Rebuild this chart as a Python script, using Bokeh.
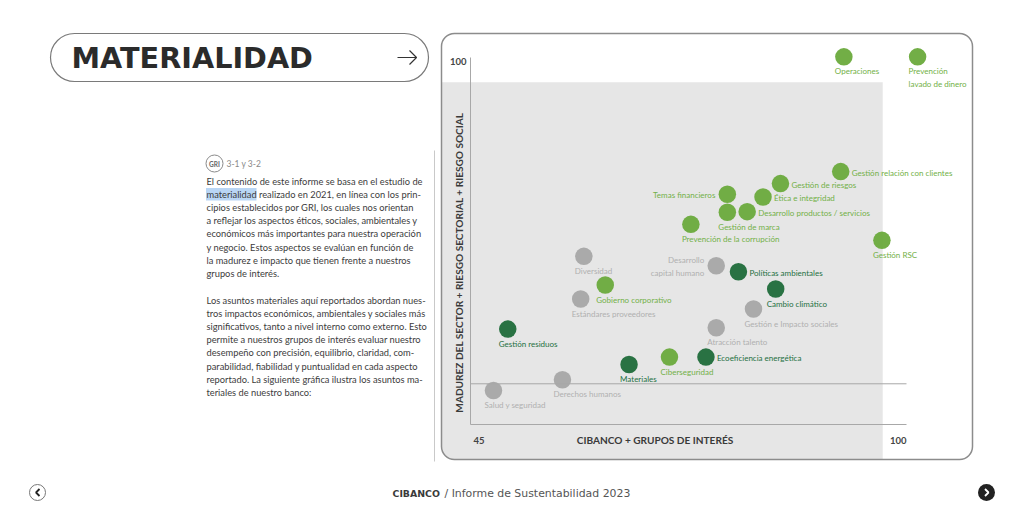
from bokeh.plotting import figure
from bokeh.models import ColumnDataSource, Range1d
from bokeh.core.properties import value
from bokeh.embed import file_html
from bokeh.resources import INLINE
import math

# ---------------- data ----------------
topics = [
    "Operaciones", "Prevención\nlavado de dinero", "Gestión relación con clientes",
    "Gestión de riesgos", "Ética e integridad", "Temas financieros", "Gestión de marca",
    "Desarrollo productos / servicios", "Prevención de la corrupción", "Gestión RSC",
    "Diversidad", "Desarrollo\ncapital humano", "Políticas ambientales",
    "Gobierno corporativo", "Cambio climático", "Estándares proveedores",
    "Gestión e Impacto sociales", "Gestión residuos", "Atracción talento",
    "Ciberseguridad", "Ecoeficiencia energética", "Materiales",
    "Derechos humanos", "Salud y seguridad",
]
x_score = [92.1, 101.4, 91.7, 84.1, 81.9, 77.4, 77.4, 79.9, 72.8, 96.9,
           59.3, 76.0, 78.8, 62.0, 83.5, 58.9, 80.7, 49.7, 76.0,
           70.1, 74.7, 65.0, 56.6, 47.9]
y_score = [100.1, 100.1, 82.9, 81.1, 79.1, 79.5, 76.8, 76.9, 75.0, 72.6,
           70.2, 68.8, 67.9, 65.9, 65.3, 63.8, 62.3, 59.3, 59.5,
           55.1, 55.1, 54.0, 51.7, 50.1]
group = ["light", "light", "light", "light", "light", "light", "light",
         "light", "light", "light", "gray", "gray", "dark", "light", "dark",
         "gray", "gray", "dark", "gray", "light", "dark", "dark", "gray", "gray"]

x_min, x_max = 45, 100
y_min, y_max = 45, 100
x_tick_values = [45, 100]
x_tick_labels = ["45", "100"]
y_tick_values = [100]
y_tick_labels = ["100"]
threshold_y = 51.1
focus_x_max = 97.0
focus_y_max = 96.3
x_axis_title = "CIBANCO + GRUPOS DE INTERÉS"
y_axis_title = "MADUREZ DEL SECTOR + RIESGO SECTORIAL + RIESGO SOCIAL"

page_title = "MATERIALIDAD"
gri_badge = "GRI"
gri_refs = "3-1 y 3-2"
paragraph_1 = [
    "El contenido de este informe se basa en el estudio de",
    "materialidad realizado en 2021, en línea con los prin-",
    "cipios establecidos por GRI, los cuales nos orientan",
    "a reflejar los aspectos éticos, sociales, ambientales y",
    "económicos más importantes para nuestra operación",
    "y negocio. Estos aspectos se evalúan en función de",
    "la madurez e impacto que tienen frente a nuestros",
    "grupos de interés.",
]
paragraph_2 = [
    "Los asuntos materiales aquí reportados abordan nues-",
    "tros impactos económicos, ambientales y sociales más",
    "significativos, tanto a nivel interno como externo. Esto",
    "permite a nuestros grupos de interés evaluar nuestro",
    "desempeño con precisión, equilibrio, claridad, com-",
    "parabilidad, fiabilidad y puntualidad en cada aspecto",
    "reportado. La siguiente gráfica ilustra los asuntos ma-",
    "teriales de nuestro banco:",
]
footer_brand = "CIBANCO"
footer_rest = "/ Informe de Sustentabilidad 2023"

# ---------------- styles ----------------
DOT = {"light": "#6aaa3c", "dark": "#1f6b3a", "gray": "#a6a6a6"}
TXT = {"light": "#72b046", "dark": "#24703f", "gray": "#b0b0b0"}
label_side = {
    "Gestión relación con clientes": "right", "Gestión de riesgos": "right",
    "Ética e integridad": "right", "Desarrollo productos / servicios": "right",
    "Políticas ambientales": "right", "Ecoeficiencia energética": "right",
    "Temas financieros": "left", "Desarrollo\ncapital humano": "left",
}

W, H = 1008, 505
# page-pixel anchors of the chart axes
AX_L, AX_R = 470, 906
AX_T, AX_B = 57, 424
XPP = (x_max - x_min) / (AX_R - AX_L)
YPP = (y_max - y_min) / (AX_B - AX_T)


def dx(px):
    return x_min + (px - AX_L) * XPP


def dy(py):
    return y_max - (py - AX_T) * YPP


p = figure(width=W, height=H, output_backend="svg", toolbar_location=None,
           x_range=Range1d(dx(0), dx(W)), y_range=Range1d(dy(H), dy(0)),
           x_axis_location=None, y_axis_location=None, min_border=0,
           outline_line_color=None, background_fill_color="white",
           border_fill_color="white")
p.xgrid.visible = False
p.ygrid.visible = False

# ---------- title pill ----------
p.quad(left=dx(50), right=dx(428), top=dy(33), bottom=dy(81), fill_color="white",
       line_color="#7a7a7a", line_width=1.2, border_radius=24)
p.text(x=[dx(71)], y=[dy(57.5)], text=[page_title], text_font=value("DejaVu Sans"),
       text_font_style="bold", text_font_size="28.7px", text_color="#2b2b2b",
       text_baseline="middle", text_align="left")
p.line(x=[dx(397), dx(416)], y=[dy(57), dy(57)], line_color="#333333", line_width=1.2)
p.line(x=[dx(409), dx(416), dx(409)], y=[dy(50), dy(57), dy(64)],
       line_color="#333333", line_width=1.2)

# ---------- left text ----------
p.segment(x0=[dx(434)], y0=[dy(150)], x1=[dx(434)], y1=[dy(461)],
          line_color="#c9c9c9", line_width=1)
p.scatter(x=[dx(214)], y=[dy(163)], size=17, marker="circle", fill_color="white",
          line_color="#8a8a8a", line_width=1)
p.text(x=[dx(214)], y=[dy(163.5)], text=[gri_badge], text_font=value("Lato"),
       text_font_style="bold", text_font_size="6.5px", text_color="#666666",
       text_align="center", text_baseline="middle")
p.text(x=[dx(226)], y=[dy(163.5)], text=[gri_refs], text_font=value("Lato"),
       text_font_size="8.5px", text_color="#8a8a8a", text_align="left",
       text_baseline="middle")
LINE_H = 13.1
p.quad(left=dx(205.5), right=dx(256), top=dy(181 + LINE_H - 6.5),
       bottom=dy(181 + LINE_H + 6), fill_color="#b9d6f5", line_color=None)
para_x = [dx(206)] * (len(paragraph_1) + len(paragraph_2))
para_y = [dy(181 + LINE_H * i) for i in range(len(paragraph_1))] + \
         [dy(300 + LINE_H * i) for i in range(len(paragraph_2))]
p.text(x=para_x, y=para_y, text=paragraph_1 + paragraph_2, text_font=value("Lato"),
       text_font_size="9.3px", text_color="#3c3c3c", text_align="left",
       text_baseline="middle")

# ---------- chart panel ----------
BOX_L, BOX_R, BOX_T, BOX_B = 441, 972, 33, 459
p.quad(left=dx(BOX_L), right=dx(BOX_R), top=dy(BOX_T), bottom=dy(BOX_B),
       fill_color="white", line_color=None, border_radius=13)
p.quad(left=dx(BOX_L), right=focus_x_max, top=focus_y_max, bottom=dy(BOX_B),
       fill_color="#e6e6e6", line_color=None, border_radius=(0, 0, 0, 13))
p.quad(left=dx(BOX_L), right=dx(BOX_R), top=dy(BOX_T), bottom=dy(BOX_B),
       fill_color=None, line_color="#8c8c8c", line_width=1.5, border_radius=13)

p.segment(x0=[x_min, x_min, x_min], y0=[y_min, y_min, threshold_y],
          x1=[x_min, x_max, x_max], y1=[y_max, y_min, threshold_y],
          line_color="#a8a8a8", line_width=1)

tick_font = dict(text_font=value("Lato"), text_font_style="bold",
                 text_font_size="9.5px", text_color="#444444", text_baseline="middle")
p.text(x=[x_min] * len(y_tick_values), y=y_tick_values, text=y_tick_labels,
       text_align="right", x_offset=-4, y_offset=4, **tick_font)
p.text(x=x_tick_values[:1], y=[y_min], text=x_tick_labels[:1], text_align="left",
       x_offset=3, y_offset=15.5, **tick_font)
p.text(x=x_tick_values[1:], y=[y_min], text=x_tick_labels[1:], text_align="right",
       x_offset=0, y_offset=15.5, **tick_font)

title_font = dict(text_font=value("Lato"), text_font_style="bold",
                  text_font_size="10.1px", text_color="#3a3a3a",
                  text_align="center", text_baseline="middle")
p.text(x=[dx(654.5)], y=[y_min], y_offset=15.5, text=[x_axis_title], **title_font)
p.text(x=[dx(458)], y=[dy(262)], text=[y_axis_title], angle=math.pi / 2, **title_font)

# ---------- points ----------
src = ColumnDataSource(dict(x=x_score, y=y_score, name=topics,
                            color=[DOT[g] for g in group]))
p.scatter("x", "y", source=src, size=17.5, marker="circle", fill_color="color",
          line_color=None, fill_alpha=0.95)

sides = {"below": dict(text_align="left", text_baseline="top", x_offset=-9, y_offset=9.5),
         "right": dict(text_align="left", text_baseline="middle", x_offset=11, y_offset=1),
         "left": dict(text_align="right", text_baseline="middle", x_offset=-12, y_offset=1)}
for side, opts in sides.items():
    idx = [i for i, t in enumerate(topics) if label_side.get(t, "below") == side]
    s = ColumnDataSource(dict(x=[x_score[i] for i in idx], y=[y_score[i] for i in idx],
                              text=[topics[i] for i in idx],
                              color=[TXT[group[i]] for i in idx]))
    p.text("x", "y", text="text", source=s, text_color="color",
           text_font=value("Lato"), text_font_size="8px", text_line_height=1.25,
           **opts)

# ---------- footer ----------
p.text(x=[dx(392)], y=[dy(493)], text=[footer_brand], text_font=value("DejaVu Sans"),
       text_font_style="bold", text_font_size="9.4px", text_color="#3a3a3a",
       text_align="left", text_baseline="middle")
p.text(x=[dx(444)], y=[dy(493)], text=[footer_rest], text_font=value("DejaVu Sans"),
       text_font_size="10.9px", text_color="#555555", text_align="left",
       text_baseline="middle")
p.scatter(x=[dx(37)], y=[dy(492)], size=16, marker="circle", fill_color="white",
          line_color="#777777", line_width=1)
p.line(x=[dx(39), dx(35.5), dx(39)], y=[dy(488.5), dy(492), dy(495.5)],
       line_color="#222222", line_width=1.8)
p.scatter(x=[dx(986)], y=[dy(492)], size=17, marker="circle", fill_color="#222222",
          line_color=None)
p.line(x=[dx(984.5), dx(988), dx(984.5)], y=[dy(488.5), dy(492), dy(495.5)],
       line_color="white", line_width=1.8)

open("out.html", "w").write(file_html(p, INLINE))
